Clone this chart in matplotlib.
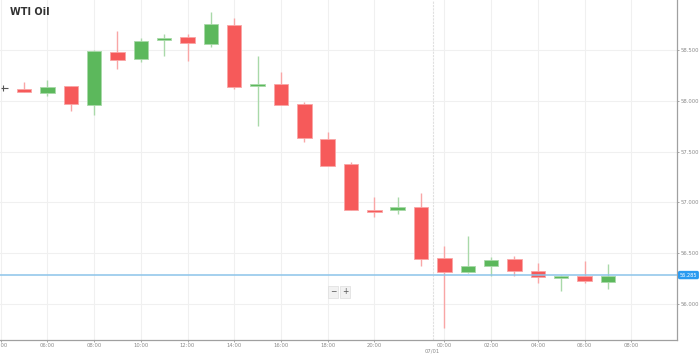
import matplotlib
matplotlib.use('Agg')
from matplotlib import pyplot as plt
import numpy as np

# hourly candles, index 0 = 04:00 (partly cut at the left edge)
opens = [58.13, 58.119, 58.080, 58.146, 57.956, 58.483, 58.411, 58.598, 58.625, 58.562,
         58.743, 58.153, 58.165, 57.966, 57.627, 57.375, 56.928, 56.922, 56.952, 56.456,
         56.312, 56.374, 56.443, 56.328, 56.259, 56.279, 56.219]
closes = [58.13, 58.084, 58.139, 57.966, 58.493, 58.402, 58.592, 58.615, 58.572, 58.753,
          58.139, 58.162, 57.959, 57.631, 57.361, 56.928, 56.908, 56.958, 56.443, 56.312,
          56.377, 56.430, 56.322, 56.269, 56.279, 56.229, 56.279]
highs = [58.16, 58.185, 58.205, 58.150, 58.495, 58.687, 58.615, 58.655, 58.655, 58.877,
         58.812, 58.441, 58.283, 57.991, 57.696, 57.395, 57.056, 57.056, 57.095, 56.571,
         56.669, 56.460, 56.472, 56.401, 56.281, 56.426, 56.391]
lows = [58.10, 58.082, 58.047, 57.903, 57.860, 58.310, 58.385, 58.444, 58.392, 58.532,
        58.116, 57.752, 57.955, 57.597, 57.358, 56.925, 56.859, 56.883, 56.377, 55.761,
        56.310, 56.276, 56.279, 56.210, 56.131, 56.204, 56.145]
tickPos = [0, 2, 4, 6, 8, 10, 12, 14, 16, 19, 21, 23, 25, 27]
tickLabels = ['04:00', '06:00', '08:00', '10:00', '12:00', '14:00', '16:00', '18:00',
              '20:00', '00:00', '02:00', '04:00', '06:00', '08:00']
dayBreak = 18.5
dayLabel = '07/01'
priceTicks = [56.0, 56.5, 57.0, 57.5, 58.0, 58.5]
lastPrice = 56.285

green = '#5cb85c'
greenWick = '#a9d9a9'
red = '#f65a5a'
redWick = '#f9a6a6'
gridColor = '#f0f0f0'

fig = plt.figure(figsize=(6.99, 3.56), dpi=100)
ax = fig.add_axes([0.0, 0.045, 677 / 699, 0.955])

x = np.arange(len(opens))
for i in x:
    o, c, h, l = opens[i], closes[i], highs[i], lows[i]
    if i == 0:
        # partly hidden candle at the left edge, drawn as a dark doji
        ax.vlines(i + 0.08, l, h, color='#555555', linewidth=0.8, zorder=2)
        ax.hlines(c, i, i + 0.31, color='#555555', linewidth=0.8, zorder=3)
        continue
    if c >= o:
        col, wick = green, greenWick
    else:
        col, wick = red, redWick
    ax.vlines(i, l, h, color=wick, linewidth=1, zorder=2)
    body = max(abs(c - o), 0.014)
    ax.bar(i, body, bottom=min(o, c) - (body - abs(c - o)) / 2, width=0.62,
           color=col, edgecolor=wick, linewidth=0.6, zorder=3)

ax.axhline(lastPrice, color='#8cc4ea', linewidth=1.1, zorder=4)
ax.axvline(dayBreak, color='#e0e0e0', linewidth=0.8, linestyle=(0, (2, 1)), zorder=1)

ax.set_xlim(-0.03, 28.96)
ax.set_ylim(55.646, 58.992)
ax.set_xticks(tickPos)
ax.set_xticklabels(tickLabels)
ax.set_yticks(priceTicks)
ax.set_yticklabels(['%.3f' % p for p in priceTicks])
ax.yaxis.tick_right()
ax.grid(True, color=gridColor, linewidth=0.8, zorder=0)
ax.set_axisbelow(True)
ax.tick_params(axis='both', labelsize=3.8, colors='#999999', labelcolor='#8a8a8a',
               length=1.5, width=0.6, pad=1.0)
for s in ['top', 'left']:
    ax.spines[s].set_visible(False)
for s in ['right', 'bottom']:
    ax.spines[s].set_color('#a0a0a0')
    ax.spines[s].set_linewidth(0.9)

ax.text(dayBreak, -0.026, dayLabel, transform=ax.get_xaxis_transform(), ha='center',
        va='top', fontsize=3.8, color='#8a8a8a', clip_on=False)

# current price tag
ax.text(1.004, lastPrice, '%.3f' % lastPrice, transform=ax.get_yaxis_transform(),
        ha='left', va='center', fontsize=3.6, color='white', clip_on=False,
        bbox=dict(boxstyle='round,pad=0.2,rounding_size=0.2', fc='#2b9bf0', ec='#2b9bf0'))

# zoom buttons
fig.text(333 / 699, 1 - 292 / 356, '\u2212', fontsize=5.5, color='#555555', ha='center',
         va='center', bbox=dict(boxstyle='square,pad=0.25', fc='#f2f2f2', ec='#dddddd', lw=0.5))
fig.text(345 / 699, 1 - 292 / 356, '+', fontsize=5.5, color='#555555', ha='center',
         va='center', bbox=dict(boxstyle='square,pad=0.25', fc='#f2f2f2', ec='#dddddd', lw=0.5))

fig.text(10 / 699, 1 - 12 / 356, 'WTI Oil', fontsize=7, fontweight='bold', color='#333333',
         ha='left', va='center')

fig.savefig('out.png', dpi=100)
